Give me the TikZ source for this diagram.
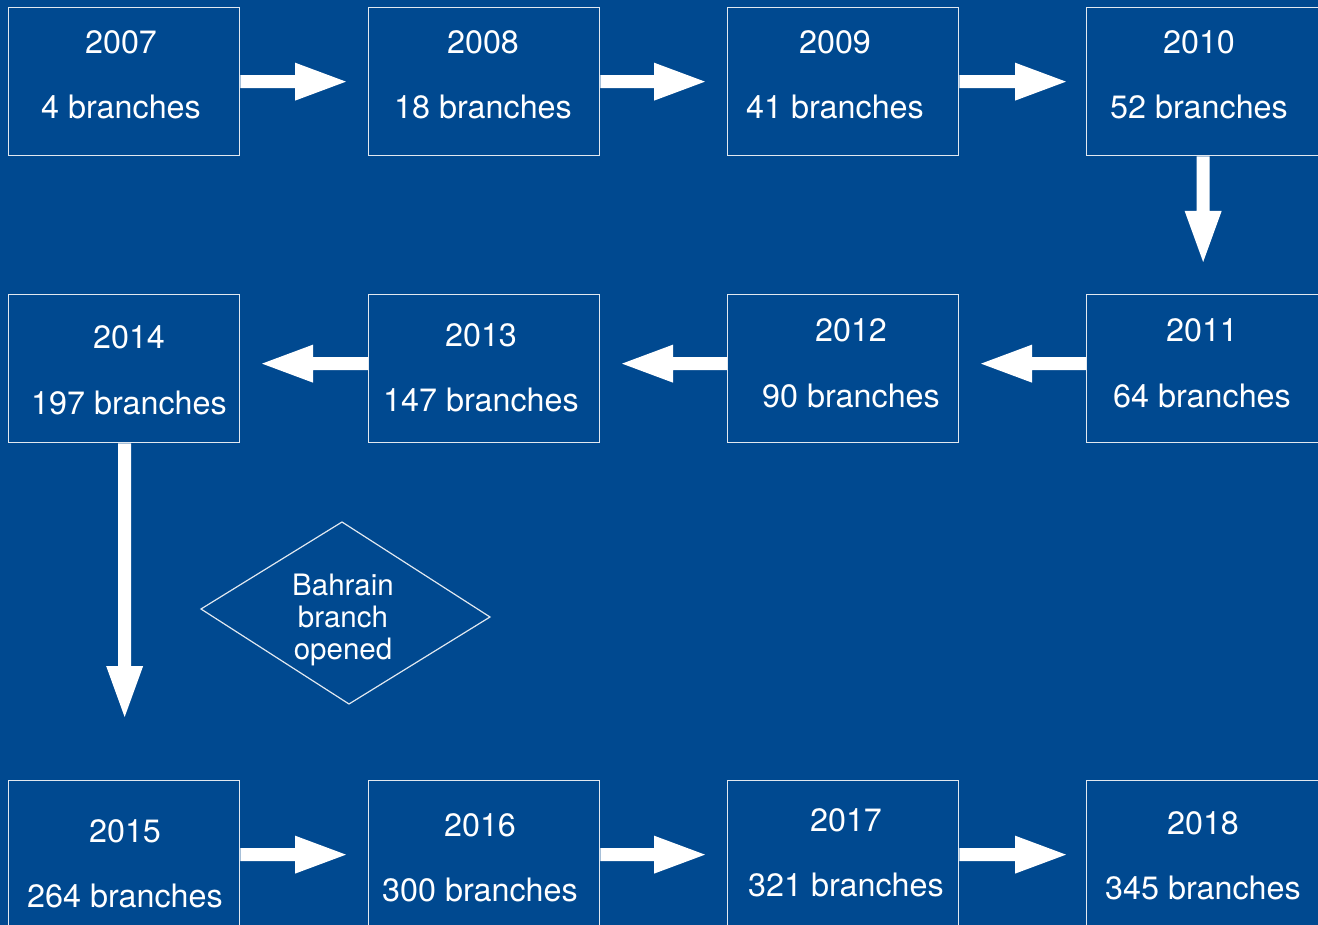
\documentclass[tikz,border=0pt]{standalone}
\usepackage{fontspec}
\setmainfont{TeX Gyre Heros}
\usetikzlibrary{calc}
\definecolor{bgblue}{RGB}{0,73,144}
\definecolor{edge}{RGB}{225,232,240}
\tikzset{
  yearbox/.style={draw=edge, line width=1.3pt, minimum width=231pt, minimum height=148pt, inner sep=0pt, anchor=north west},
  lbl/.style={text=white, font=\fontsize{32.3}{35}\selectfont, anchor=base, inner sep=0pt},
  dlbl/.style={text=white, font=\fontsize{29.5}{32}\selectfont, align=center, inner sep=0pt},
  arrowfill/.style={fill=white},
}
\newcommand\harrow[2]{%
  \fill[arrowfill] let \p1=(#1),\p2=(#2),\n1={51*sign(\x2-\x1)} in
    (\x1,\y1+6.5pt) -- (\x2-\n1*1pt,\y1+6.5pt) -- (\x2-\n1*1pt,\y1+19pt) -- (\x2,\y1)
    -- (\x2-\n1*1pt,\y1-19pt) -- (\x2-\n1*1pt,\y1-6.5pt) -- (\x1,\y1-6.5pt) -- cycle;}
\newcommand\varrow[2]{%
  \fill[arrowfill] let \p1=(#1),\p2=(#2),\n1={51*sign(\y2-\y1)} in
    (\x1+6.5pt,\y1) -- (\x1+6.5pt,\y2-\n1*1pt) -- (\x1+18.5pt,\y2-\n1*1pt) -- (\x1,\y2)
    -- (\x1-18.5pt,\y2-\n1*1pt) -- (\x1-6.5pt,\y2-\n1*1pt) -- (\x1-6.5pt,\y1) -- cycle;}
\begin{document}
\begin{tikzpicture}[x=1pt,y=-1pt]
\useasboundingbox (0,0) rectangle (1318,925);
\clip (0,0) rectangle (1318,925);
\fill[bgblue] (0,0) rectangle (1318,925);

% row 1
\node[yearbox] (b2007) at (8,7) {};
\node[yearbox] (b2008) at (368,7) {};
\node[yearbox] (b2009) at (727,7) {};
\node[yearbox, minimum width=233pt] (b2010) at (1086,7) {};
% row 2
\node[yearbox] (b2014) at (8,294) {};
\node[yearbox] (b2013) at (368,294) {};
\node[yearbox] (b2012) at (727,294) {};
\node[yearbox, minimum width=233pt] (b2011) at (1086,294) {};
% row 3
\node[yearbox] (b2015) at (8,780) {};
\node[yearbox] (b2016) at (368,780) {};
\node[yearbox] (b2017) at (727,780) {};
\node[yearbox, minimum width=233pt] (b2018) at (1086,780) {};

% labels
\node[lbl] (y2007) at (121,54) {2007};   \node[lbl] (n2007) at (121,119) {4 branches};
\node[lbl] (y2008) at (483,54) {2008};   \node[lbl] (n2008) at (483,119) {18 branches};
\node[lbl] (y2009) at (835,54) {2009};   \node[lbl] (n2009) at (835,119) {41 branches};
\node[lbl] (y2010) at (1199,54) {2010};  \node[lbl] (n2010) at (1199,119) {52 branches};
\node[lbl] (y2014) at (129,349) {2014};  \node[lbl] (n2014) at (129,414) {197 branches};
\node[lbl] (y2013) at (481,347) {2013};  \node[lbl] (n2013) at (481,412) {147 branches};
\node[lbl] (y2012) at (851,342) {2012};  \node[lbl] (n2012) at (851,407) {90 branches};
\node[lbl] (y2011) at (1202,342) {2011}; \node[lbl] (n2011) at (1202,407) {64 branches};
\node[lbl] (y2015) at (125,842) {2015};  \node[lbl] (n2015) at (125,907) {264 branches};
\node[lbl] (y2016) at (480,836) {2016};  \node[lbl] (n2016) at (480,901) {300 branches};
\node[lbl] (y2017) at (846,831) {2017};  \node[lbl] (n2017) at (846,896) {321 branches};
\node[lbl] (y2018) at (1203,834) {2018}; \node[lbl] (n2018) at (1203,899) {345 branches};

% arrow tips
\coordinate (t1) at (346,81);
\coordinate (t2) at (705,81);
\coordinate (t3) at (1066,81);
\coordinate (t4) at (1202,262);
\coordinate (t5) at (981,363);
\coordinate (t6) at (622,363);
\coordinate (t7) at (262,363);
\coordinate (t8) at (124.5,717);
\coordinate (t9) at (346,854);
\coordinate (t10) at (705,854);
\coordinate (t11) at (1066,854);

\harrow{b2007.east}{t1}
\harrow{b2008.east}{t2}
\harrow{b2009.east}{t3}
\varrow{b2010.south}{t4}
\harrow{$(b2011.west)+(0,-5)$}{t5}
\harrow{$(b2012.west)+(0,-5)$}{t6}
\harrow{$(b2013.west)+(0,-5)$}{t7}
\varrow{$(b2014.south)+(0.5,0)$}{t8}
\harrow{b2015.east}{t9}
\harrow{b2016.east}{t10}
\harrow{b2017.east}{t11}

% diamond
\coordinate (dT) at (342,522);
\coordinate (dR) at (490,617);
\coordinate (dB) at (349,704);
\coordinate (dL) at (201,609);
\draw[edge, line width=1.2pt, line join=miter] (dT) -- (dR) -- (dB) -- (dL) -- cycle;
\node[dlbl] (bahrain) at (343,620) {Bahrain\\branch\\opened};
\end{tikzpicture}
\end{document}
